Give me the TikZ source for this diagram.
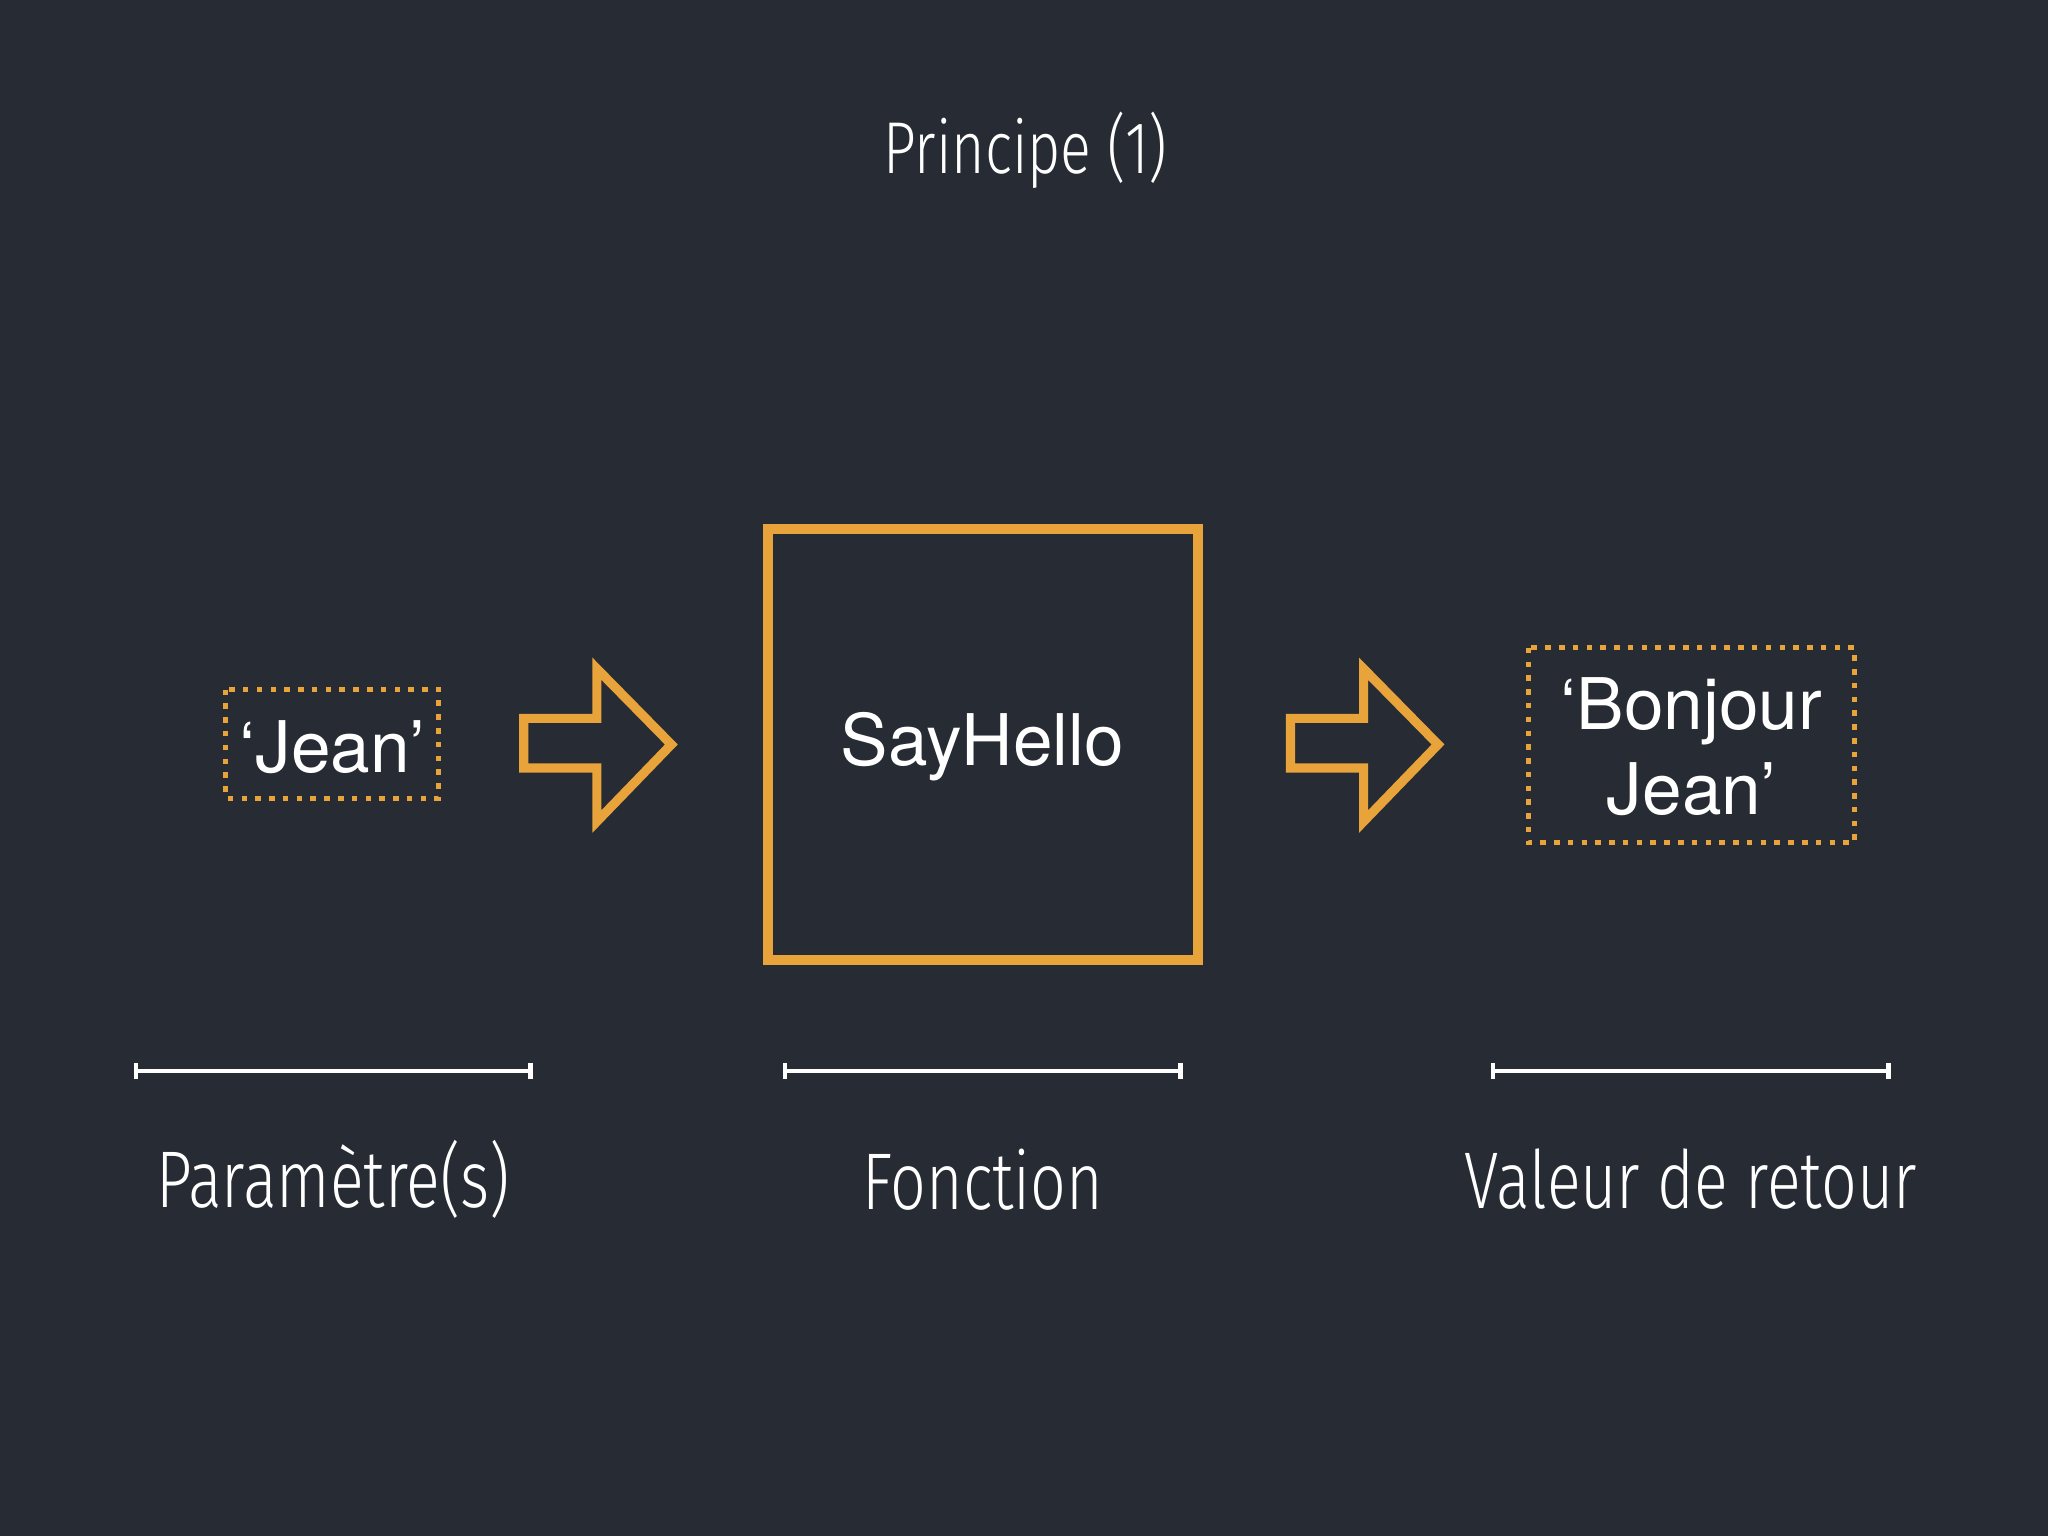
\documentclass[tikz,border=0pt]{standalone}
\usepackage{fontspec}
\setmainfont{TeX Gyre Heros}
\newfontfamily\handfont[FakeStretch=0.78]{Fira Sans Light}
\definecolor{bgc}{HTML}{262B34}
\definecolor{org}{HTML}{E8A33A}
\tikzset{
  dotbox/.style={draw=org,line width=1.1pt,dash pattern=on 1.2pt off 1.8pt},
  bigarrow/.style={draw=org,line width=2pt,line join=miter},
  bar/.style={draw=white,line width=1pt},
  lbl/.style={text=white,font=\handfont\fontsize{17.5}{21}\selectfont},
  txt/.style={text=white,font=\fontsize{15.5}{18.5}\selectfont,align=center}
}
\begin{document}
\begin{tikzpicture}[x=0.01cm,y=-0.01cm]
\fill[bgc] (0,0) rectangle (1568,1176);
\useasboundingbox (0,0) rectangle (1568,1176);
\node[lbl,font=\handfont\fontsize{16}{19}\selectfont] (title) at (785,115) {Principe (1)};
\draw[dotbox] (173,528) rectangle (336,611);
\node[txt] (jean) at (254.5,572) {‘Jean’};
\draw[bigarrow] (401,550) -- (457,550) -- (457,512) -- (514,570) -- (457,629) -- (457,588) -- (401,588) -- cycle;
\draw[org,line width=2.2pt] (588,405) rectangle (917,735);
\node[txt] (fn) at (752,572) {SayHello};
\draw[bigarrow] (988,550) -- (1044,550) -- (1044,512) -- (1101,570) -- (1044,629) -- (1044,588) -- (988,588) -- cycle;
\draw[dotbox] (1170,496) rectangle (1420,645);
\node[txt] (ret) at (1295,572) {‘Bonjour\\Jean’};
\foreach \a/\b/\n/\t in {104/406/p/Paramètre(s),601/904/f/Fonction,1143/1446/v/Valeur de retour}{
  \coordinate (\n1) at (\a,820);
  \coordinate (\n2) at (\b,820);
  \draw[bar] (\n1) -- (\n2);
  \draw[bar] ([yshift=-6*0.01cm]\n1) -- ([yshift=6*0.01cm]\n1);
  \draw[bar] ([yshift=-6*0.01cm]\n2) -- ([yshift=6*0.01cm]\n2);
  \node[lbl] (l\n) at ({(\a+\b)/2},903) {\t};
}
\end{tikzpicture}
\end{document}
